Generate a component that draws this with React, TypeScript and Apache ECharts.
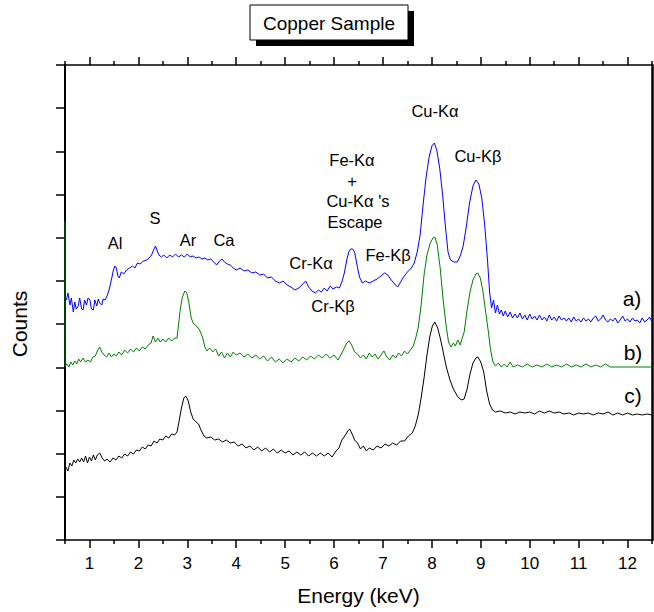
import React, { useEffect, useRef } from "react";
import * as echarts from "echarts";

// Energy axis (keV)
const majorTicks = [1, 2, 3, 4, 5, 6, 7, 8, 9, 10, 11, 12];
const minorTicks = [0.5, 1.5, 2.5, 3.5, 4.5, 5.5, 6.5, 7.5, 8.5, 9.5, 10.5, 11.5, 12.5];

// Counts (arbitrary units), [energy keV, counts]
const spectrumA: [number, number][] = [
  [0.5, 243], [0.53, 240], [0.56, 247], [0.6, 235], [0.63, 242], [0.67, 228], [0.7, 238], [0.73, 231],
  [0.77, 234], [0.8, 242], [0.84, 231], [0.87, 230], [0.9, 240], [0.94, 235], [0.97, 242], [1.01, 240],
  [1.04, 231], [1.08, 230], [1.11, 240], [1.15, 234], [1.18, 241], [1.21, 237], [1.25, 235], [1.28, 241],
  [1.32, 240], [1.36, 244], [1.4, 250], [1.43, 256], [1.46, 263], [1.49, 270], [1.52, 274], [1.55, 272],
  [1.58, 264], [1.61, 262], [1.65, 268], [1.7, 266], [1.76, 270], [1.82, 272], [1.88, 274], [1.93, 272],
  [1.98, 277], [2.04, 276], [2.1, 279], [2.17, 280], [2.22, 282], [2.27, 285], [2.31, 290], [2.35, 294],
  [2.38, 290], [2.42, 285], [2.47, 283], [2.52, 285], [2.58, 282], [2.64, 285], [2.7, 283], [2.76, 286],
  [2.82, 283], [2.88, 285], [2.94, 283], [3.0, 286], [3.06, 283], [3.12, 284], [3.18, 282], [3.24, 283],
  [3.3, 281], [3.36, 282], [3.42, 280], [3.48, 281], [3.54, 278], [3.6, 275], [3.66, 279], [3.71, 281],
  [3.76, 278], [3.82, 276], [3.88, 275], [3.94, 272], [4.0, 270], [4.08, 272], [4.16, 269], [4.24, 270],
  [4.32, 267], [4.4, 268], [4.48, 265], [4.56, 266], [4.64, 262], [4.72, 263], [4.8, 259], [4.88, 257],
  [4.96, 259], [5.04, 255], [5.12, 253], [5.2, 250], [5.28, 252], [5.36, 256], [5.42, 259], [5.48, 253],
  [5.55, 249], [5.62, 247], [5.68, 250], [5.74, 248], [5.8, 252], [5.86, 249], [5.92, 254], [5.98, 251],
  [6.05, 253], [6.11, 252], [6.16, 258], [6.21, 267], [6.26, 280], [6.3, 288], [6.34, 291], [6.38, 291],
  [6.42, 288], [6.47, 275], [6.52, 263], [6.58, 257], [6.64, 259], [6.72, 257], [6.8, 259], [6.88, 261],
  [6.96, 264], [7.03, 267], [7.1, 265], [7.17, 260], [7.24, 256], [7.3, 253], [7.36, 258], [7.42, 263],
  [7.5, 268], [7.58, 272], [7.64, 277], [7.7, 288], [7.76, 305], [7.82, 335], [7.88, 362], [7.94, 382],
  [8.0, 394], [8.05, 397], [8.1, 390], [8.16, 372], [8.22, 345], [8.28, 312], [8.33, 288], [8.38, 280],
  [8.45, 278], [8.52, 278], [8.58, 284], [8.64, 294], [8.7, 312], [8.77, 337], [8.84, 354], [8.9, 360],
  [8.96, 356], [9.02, 342], [9.08, 315], [9.14, 278], [9.18, 248], [9.22, 232], [9.26, 240], [9.3, 227],
  [9.34, 235], [9.38, 226], [9.42, 230], [9.46, 224], [9.5, 229], [9.55, 223], [9.6, 228], [9.65, 222],
  [9.7, 226], [9.75, 222], [9.8, 227], [9.85, 221], [9.9, 225], [9.95, 220], [10.0, 226], [10.05, 221],
  [10.1, 224], [10.15, 220], [10.2, 225], [10.25, 220], [10.3, 223], [10.35, 219], [10.4, 225], [10.45, 220],
  [10.5, 223], [10.55, 219], [10.6, 224], [10.65, 220], [10.7, 222], [10.75, 219], [10.8, 222], [10.85, 218],
  [10.9, 223], [10.95, 219], [11.0, 221], [11.05, 218], [11.1, 222], [11.15, 219], [11.2, 221], [11.25, 218],
  [11.3, 222], [11.35, 224], [11.4, 219], [11.45, 221], [11.5, 225], [11.55, 220], [11.6, 218], [11.65, 221],
  [11.7, 219], [11.75, 222], [11.8, 217], [11.85, 220], [11.9, 224], [11.95, 219], [12.0, 221], [12.05, 218],
  [12.1, 222], [12.15, 219], [12.2, 220], [12.25, 217], [12.3, 222], [12.35, 218], [12.4, 220], [12.45, 223],
  [12.5, 218],
];

const spectrumB: [number, number][] = [
  [0.5, 319], [0.5, 174], [0.54, 176], [0.58, 173], [0.62, 178], [0.66, 175], [0.7, 179], [0.74, 176],
  [0.78, 181], [0.82, 178], [0.87, 182], [0.92, 178], [0.97, 180], [1.02, 178], [1.07, 183], [1.12, 184],
  [1.17, 190], [1.21, 193], [1.25, 188], [1.3, 185], [1.35, 183], [1.4, 187], [1.45, 183], [1.5, 186],
  [1.55, 184], [1.6, 188], [1.66, 185], [1.72, 190], [1.78, 187], [1.84, 191], [1.9, 188], [1.96, 192],
  [2.02, 189], [2.08, 193], [2.14, 191], [2.2, 195], [2.26, 197], [2.3, 204], [2.35, 198], [2.4, 202],
  [2.45, 198], [2.5, 201], [2.56, 198], [2.62, 202], [2.68, 199], [2.74, 202], [2.79, 202], [2.82, 215],
  [2.86, 232], [2.9, 243], [2.95, 249], [2.99, 247], [3.03, 238], [3.08, 222], [3.13, 216], [3.19, 214],
  [3.25, 210], [3.31, 203], [3.36, 193], [3.4, 189], [3.46, 192], [3.52, 188], [3.58, 191], [3.64, 184],
  [3.7, 188], [3.76, 182], [3.82, 187], [3.88, 183], [3.94, 188], [4.0, 185], [4.08, 187], [4.16, 183],
  [4.24, 186], [4.32, 182], [4.4, 185], [4.48, 181], [4.56, 184], [4.64, 179], [4.72, 183], [4.8, 178],
  [4.88, 181], [4.96, 177], [5.04, 181], [5.12, 178], [5.2, 182], [5.28, 179], [5.36, 183], [5.44, 180],
  [5.52, 184], [5.6, 181], [5.68, 185], [5.76, 182], [5.84, 186], [5.92, 182], [6.0, 185], [6.08, 180],
  [6.14, 185], [6.2, 191], [6.26, 197], [6.31, 199], [6.36, 195], [6.42, 188], [6.48, 186], [6.54, 182],
  [6.6, 185], [6.66, 181], [6.72, 187], [6.78, 183], [6.84, 186], [6.9, 181], [6.96, 185], [7.02, 189],
  [7.08, 183], [7.14, 180], [7.2, 185], [7.26, 182], [7.32, 187], [7.38, 184], [7.44, 189], [7.5, 186],
  [7.56, 190], [7.62, 194], [7.67, 202], [7.72, 212], [7.78, 235], [7.84, 265], [7.9, 285], [7.96, 296],
  [8.02, 302], [8.06, 303], [8.11, 295], [8.17, 272], [8.23, 240], [8.29, 215], [8.34, 198], [8.39, 193],
  [8.44, 197], [8.48, 194], [8.53, 200], [8.58, 195], [8.62, 202], [8.66, 208], [8.72, 230], [8.78, 248],
  [8.84, 260], [8.9, 266], [8.94, 267], [8.99, 262], [9.04, 250], [9.1, 228], [9.15, 210], [9.2, 190],
  [9.25, 178], [9.3, 174], [9.36, 177], [9.42, 173], [9.48, 176], [9.54, 173], [9.6, 178], [9.66, 173],
  [9.75, 175], [9.85, 173], [9.95, 176], [10.05, 173], [10.15, 175], [10.25, 173], [10.35, 176], [10.45, 173],
  [10.55, 175], [10.65, 173], [10.75, 176], [10.85, 173], [10.95, 175], [11.05, 173], [11.15, 176], [11.25, 173],
  [11.35, 175], [11.45, 173], [11.55, 176], [11.65, 173], [11.75, 173], [12.0, 173], [12.5, 173],
];

const spectrumC: [number, number][] = [
  [0.5, 74], [0.53, 72], [0.56, 69], [0.6, 77], [0.64, 74], [0.68, 80], [0.72, 77], [0.76, 81],
  [0.8, 78], [0.84, 82], [0.88, 78], [0.92, 84], [0.96, 77], [1.0, 83], [1.04, 79], [1.08, 85],
  [1.12, 80], [1.16, 85], [1.21, 87], [1.26, 82], [1.31, 79], [1.36, 81], [1.42, 78], [1.48, 82],
  [1.54, 80], [1.6, 84], [1.66, 82], [1.72, 86], [1.78, 84], [1.84, 88], [1.9, 86], [1.96, 90],
  [2.02, 89], [2.08, 93], [2.14, 91], [2.2, 95], [2.26, 94], [2.32, 99], [2.38, 97], [2.44, 101],
  [2.5, 100], [2.56, 104], [2.62, 102], [2.68, 106], [2.74, 105], [2.79, 108], [2.83, 118], [2.88, 132],
  [2.93, 142], [2.97, 144], [3.02, 139], [3.07, 128], [3.12, 121], [3.18, 118], [3.23, 116], [3.28, 110],
  [3.34, 104], [3.4, 102], [3.48, 103], [3.56, 100], [3.64, 101], [3.72, 98], [3.8, 100], [3.88, 97],
  [3.96, 98], [4.04, 94], [4.12, 96], [4.2, 92], [4.28, 94], [4.36, 90], [4.44, 93], [4.52, 89],
  [4.6, 92], [4.68, 88], [4.76, 91], [4.84, 87], [4.92, 90], [5.0, 87], [5.08, 89], [5.16, 85],
  [5.24, 88], [5.32, 85], [5.4, 88], [5.48, 84], [5.56, 87], [5.64, 84], [5.72, 87], [5.8, 84],
  [5.88, 87], [5.96, 83], [6.04, 89], [6.1, 92], [6.16, 100], [6.22, 104], [6.28, 109], [6.32, 111],
  [6.37, 106], [6.42, 100], [6.48, 97], [6.54, 91], [6.6, 94], [6.66, 89], [6.72, 92], [6.8, 90],
  [6.88, 94], [6.96, 92], [7.04, 96], [7.12, 94], [7.2, 97], [7.28, 95], [7.36, 99], [7.44, 99],
  [7.52, 104], [7.6, 107], [7.66, 114], [7.72, 125], [7.78, 142], [7.84, 162], [7.9, 185], [7.96, 204],
  [8.01, 214], [8.06, 218], [8.12, 212], [8.18, 200], [8.24, 186], [8.3, 172], [8.37, 160], [8.44, 151],
  [8.52, 144], [8.6, 140], [8.66, 141], [8.72, 151], [8.78, 166], [8.84, 177], [8.9, 182], [8.94, 183],
  [9.0, 178], [9.06, 168], [9.12, 149], [9.18, 136], [9.24, 130], [9.3, 128], [9.4, 129], [9.5, 127],
  [9.6, 128], [9.7, 126], [9.8, 128], [9.9, 127], [10.0, 128], [10.1, 126], [10.2, 129], [10.3, 127],
  [10.4, 129], [10.5, 127], [10.6, 128], [10.7, 126], [10.8, 127], [10.9, 125], [11.0, 127], [11.1, 126],
  [11.2, 127], [11.3, 125], [11.4, 127], [11.5, 126], [11.6, 128], [11.7, 125], [11.8, 127], [11.9, 125],
  [12.0, 127], [12.1, 125], [12.2, 126], [12.3, 125], [12.4, 126], [12.5, 125],
];

const seriesNames = ["a)", "b)", "c)"];
const peakLabels = [
  "Al", "S", "Ar", "Ca", "Cr-Kα", "Cr-Kβ", "Fe-Kα", "+", "Cu-Kα 's", "Escape", "Fe-Kβ", "Cu-Kα", "Cu-Kβ",
];
const titleText = "Copper Sample";
const xAxisTitle = "Energy (keV)";
const yAxisTitle = "Counts";

const FONT = '"Liberation Sans", Arial, Helvetica, sans-serif';

export default function App() {
  const ref = useRef<HTMLDivElement>(null);
  useEffect(() => {
    if (!ref.current) return;
    const chart = echarts.init(ref.current, undefined, { renderer: "svg" });
    const xMin = 0.5;
    const xMax = 12.5;
    const yMax = 475;
    const yInt = yMax / 11;
    const axisBase = { type: "value" as const, min: xMin, max: xMax, splitLine: { show: false } };
    const labelPos: [number, number][] = [
      [115, 243], [155, 218], [188, 240], [224, 240], [311, 263], [333, 306], [352, 160], [352, 181],
      [358, 201], [355, 222], [388, 255], [435, 111], [478, 156],
    ];
    const sidePos: [number, number][] = [[632, 298], [633, 352], [633, 395]];
    const txt = (s: string, x: number, y: number, size: number, rotation = 0) => ({
      type: "text",
      x,
      y,
      rotation,
      z: 100,
      style: {
        text: s,
        font: `${size}px ${FONT}`,
        fill: "#000",
        textAlign: "center",
        textVerticalAlign: "middle",
        align: "center",
        verticalAlign: "middle",
      },
    });
    chart.setOption({
      animation: false,
      backgroundColor: "#fff",
      grid: { left: 65, right: 2, top: 65, bottom: 72, containLabel: false },
      xAxis: [
        {
          ...axisBase,
          position: "bottom",
          axisLine: { lineStyle: { color: "#000", width: 1.5 } },
          axisTick: { customValues: majorTicks, length: 8, lineStyle: { color: "#000", width: 1.5 } },
          axisLabel: { customValues: majorTicks, margin: 15, fontSize: 17, color: "#000", fontFamily: FONT },
          name: xAxisTitle,
          nameLocation: "middle",
          nameGap: 45,
          nameTextStyle: { fontSize: 21, color: "#000", fontFamily: FONT },
        },
        {
          ...axisBase,
          position: "bottom",
          axisLine: { show: false },
          axisTick: { customValues: minorTicks, length: 4, lineStyle: { color: "#000", width: 1.5 } },
          axisLabel: { show: false },
        },
        {
          ...axisBase,
          position: "top",
          axisLine: { lineStyle: { color: "#000", width: 1.5 } },
          axisTick: { customValues: majorTicks, length: 8, lineStyle: { color: "#000", width: 1.5 } },
          axisLabel: { show: false },
        },
        {
          ...axisBase,
          position: "top",
          axisLine: { show: false },
          axisTick: { customValues: minorTicks, length: 4, lineStyle: { color: "#000", width: 1.5 } },
          axisLabel: { show: false },
        },
      ],
      yAxis: [
        {
          type: "value",
          min: 0,
          max: yMax,
          interval: yInt,
          position: "left",
          splitLine: { show: false },
          axisLine: { show: true, lineStyle: { color: "#000", width: 2 } },
          axisTick: { show: true, length: 9, lineStyle: { color: "#000", width: 1.5 } },
          axisLabel: { show: false },
        },
        {
          type: "value",
          min: 0,
          max: yMax,
          position: "right",
          splitLine: { show: false },
          axisLine: { show: true, lineStyle: { color: "#000", width: 2.5 } },
          axisTick: { show: false },
          axisLabel: { show: false },
        },
      ],
      series: [
        { name: seriesNames[0], type: "line", data: spectrumA, color: "#0000ff" },
        { name: seriesNames[1], type: "line", data: spectrumB, color: "#008000" },
        { name: seriesNames[2], type: "line", data: spectrumC, color: "#000000" },
      ].map((s) => ({
        ...s,
        xAxisIndex: 0,
        yAxisIndex: 0,
        showSymbol: false,
        symbol: "none",
        lineStyle: { width: 1, color: s.color },
        itemStyle: { color: s.color },
        z: 5,
      })),
      graphic: [
        { type: "rect", shape: { x: 256, y: 11, width: 158, height: 35 }, style: { fill: "#000" } },
        {
          type: "rect",
          shape: { x: 250, y: 5, width: 158, height: 35 },
          style: { fill: "#fff", stroke: "#000", lineWidth: 1 },
        },
        txt(titleText, 329, 23, 19),
        txt(yAxisTitle, 19, 324, 21, Math.PI / 2),
        ...peakLabels.map((t, i) => txt(t, labelPos[i][0], labelPos[i][1], 16.5)),
        ...seriesNames.map((t, i) => txt(t, sidePos[i][0], sidePos[i][1], 21)),
      ],
    });
    return () => chart.dispose();
  }, []);
  return (
    <div
      ref={ref}
      style={{ position: "fixed", left: 0, top: 0, width: 654, height: 612, background: "#fff" }}
    />
  );
}
